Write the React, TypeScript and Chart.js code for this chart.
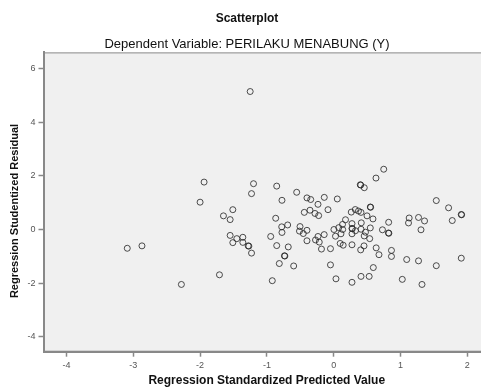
import { useEffect, useRef } from "react";
import { Chart, registerables } from "chart.js";

Chart.register(...registerables);

const titleText = "Scatterplot";
const subtitleText = "Dependent Variable: PERILAKU MENABUNG (Y)";
const xAxisTitle = "Regression Standardized Predicted Value";
const yAxisTitle = "Regression Studentized Residual";

const xTickValues = [-4, -3, -2, -1, 0, 1, 2];
const yTickValues = [-4, -2, 0, 2, 4, 6];

const predictedValues = [
  -1.25, -1.94, -1.2, -1.23, -2.0, -1.51, -1.65, -1.55, -1.55, -1.51,
  -1.45, -1.36, -1.36, -1.28, -1.27, -1.23, -3.09, -2.87, -1.71, -2.28,
  0.749, 0.633, 0.398, 0.405, 0.458, -0.853, -0.554, -0.4, -0.344, -0.141,
  0.054, -0.774, -0.235, 0.548, 0.553, 1.536, 1.72, 1.91, 1.915, 1.775,
  -0.44, -0.355, -0.28, -0.225, -0.085, 0.263, 0.323, 0.371, 0.409, 0.499,
  0.588, -0.868, 0.177, 0.132, 0.274, 0.413, 0.823, 1.13, 1.27, 1.36,
  1.12, 1.307, -0.778, -0.689, -0.504, -0.774, -0.512, -0.455, -0.4, 0.004,
  0.076, 0.135, 0.274, 0.279, 0.326, 0.41, 0.476, 0.548, 0.73, 0.82,
  0.826, -0.943, -0.235, -0.142, 0.027, 0.109, 0.274, 0.457, 0.539, -0.4,
  -0.272, -0.216, -0.853, -0.68, 0.097, 0.142, 0.274, 0.454, -0.183, -0.048,
  0.404, 0.636, 0.865, 0.678, 0.865, -0.737, -0.731, -0.814, -0.599, -0.048,
  1.093, 1.27, 1.536, 1.91, 0.593, -0.919, 0.034, 0.274, 0.409, 0.531,
  1.027, 1.322,
];

const residualValues = [
  5.15, 1.77, 1.71, 1.34, 1.02, 0.74, 0.51, 0.37, -0.22, -0.49,
  -0.34, -0.29, -0.48, -0.61, -0.62, -0.88, -0.7, -0.61, -1.69, -2.05,
  2.25, 1.92, 1.67, 1.66, 1.56, 1.62, 1.39, 1.18, 1.12, 1.2,
  1.14, 1.09, 0.94, 0.84, 0.83, 1.08, 0.81, 0.56, 0.55, 0.335,
  0.64, 0.72, 0.6, 0.52, 0.74, 0.65, 0.745, 0.69, 0.64, 0.51,
  0.395, 0.42, 0.365, 0.19, 0.22, 0.25, 0.27, 0.43, 0.45, 0.32,
  0.245, -0.01, 0.1, 0.17, 0.11, -0.11, -0.06, -0.15, -0.03, 0.0,
  0.07, 0.0, 0.04, 0.03, -0.045, 0.01, -0.1, 0.06, -0.01, -0.13,
  -0.14, -0.26, -0.26, -0.19, -0.25, -0.16, -0.16, -0.24, -0.34, -0.42,
  -0.39, -0.47, -0.6, -0.65, -0.52, -0.585, -0.57, -0.61, -0.73, -0.715,
  -0.76, -0.685, -0.78, -0.94, -1.005, -0.98, -0.99, -1.27, -1.36, -1.32,
  -1.12, -1.17, -1.35, -1.07, -1.42, -1.91, -1.84, -1.97, -1.75, -1.75,
  -1.86, -2.05,
];

const FONT = "'Liberation Sans', Arial, sans-serif";

const plotFrame = {
  id: "plotFrame",
  beforeDraw(chart: any) {
    const { ctx, chartArea: a } = chart;
    ctx.save();
    ctx.fillStyle = "#f0f0f0";
    ctx.fillRect(a.left, a.top, a.right - a.left, a.bottom - a.top);
    ctx.strokeStyle = "#8c8c8c";
    ctx.lineWidth = 1;
    ctx.strokeRect(a.left + 0.5, a.top + 0.5, a.right - a.left - 1, a.bottom - a.top - 1);
    ctx.restore();
  },
  afterDraw(chart: any) {
    const { ctx } = chart;
    ctx.save();
    ctx.translate(15, 211);
    ctx.rotate(-Math.PI / 2);
    ctx.font = `bold 11px ${FONT}`;
    ctx.fillStyle = "#111";
    ctx.textAlign = "center";
    ctx.textBaseline = "middle";
    ctx.fillText(yAxisTitle, 0, 0);
    ctx.restore();
  },
};

export default function App() {
  const ref = useRef<HTMLCanvasElement>(null);
  useEffect(() => {
    if (!ref.current) return;
    const points = predictedValues.map((x, i) => ({ x, y: residualValues[i] }));
    const chart = new Chart(ref.current, {
      type: "scatter",
      data: {
        datasets: [
          {
            data: points,
            pointRadius: 3,
            pointHoverRadius: 3,
            borderWidth: 1,
            borderColor: "rgba(35,35,35,0.8)",
            backgroundColor: "rgba(0,0,0,0)",
          },
        ],
      },
      options: {
        animation: false,
        responsive: false,
        events: [],
        layout: { autoPadding: false, padding: { left: 4, right: 0, top: 0, bottom: 0 } },
        plugins: {
          legend: { display: false },
          tooltip: { enabled: false },
          title: {
            display: true,
            text: titleText,
            color: "#111",
            font: { family: FONT, size: 12, weight: "bold", lineHeight: 1.2 },
            padding: { top: 11.8, bottom: 0 },
          },
          subtitle: {
            display: true,
            text: subtitleText,
            color: "#111",
            font: { family: FONT, size: 13, lineHeight: 1.2 },
            padding: { top: 10.2, bottom: 0.4 },
          },
        },
        scales: {
          x: {
            type: "linear",
            min: -4.344,
            max: 2.34,
            afterFit: (s: any) => {
              s.height = 35.3;
              s.paddingLeft = 0;
              s.paddingRight = 0;
            },
            afterBuildTicks: (s: any) => {
              s.ticks = xTickValues.map((v) => ({ value: v }));
            },
            ticks: {
              color: "#555",
              font: { family: FONT, size: 9 },
              padding: 3,
              callback: (v: any) => String(v),
            },
            grid: {
              drawOnChartArea: false,
              drawTicks: true,
              tickLength: 5,
              tickColor: "#888",
              tickWidth: 1.5,
            },
            border: { display: true, color: "#888", width: 2 },
            title: {
              display: true,
              text: xAxisTitle,
              color: "#111",
              font: { family: FONT, size: 12, weight: "bold", lineHeight: 1 },
              padding: { top: 0, bottom: 0 },
            },
          },
          y: {
            type: "linear",
            min: -4.56,
            max: 6.61,
            afterFit: (s: any) => {
              s.width = 39.5;
              s.paddingTop = 0;
              s.paddingBottom = 0;
            },
            afterBuildTicks: (s: any) => {
              s.ticks = yTickValues.map((v) => ({ value: v }));
            },
            ticks: {
              color: "#555",
              font: { family: FONT, size: 9 },
              padding: 3,
              callback: (v: any) => String(v),
            },
            grid: {
              drawOnChartArea: false,
              drawTicks: true,
              tickLength: 5,
              tickColor: "#888",
              tickWidth: 1.5,
            },
            border: { display: true, color: "#888", width: 2 },
          },
        },
      },
      plugins: [plotFrame],
    });
    return () => chart.destroy();
  }, []);
  return (
    <div style={{ position: "absolute", left: 0, top: 0, width: 481, height: 387, overflow: "hidden" }}>
      <canvas ref={ref} width={490} height={387} style={{ display: "block" }} />
    </div>
  );
}
